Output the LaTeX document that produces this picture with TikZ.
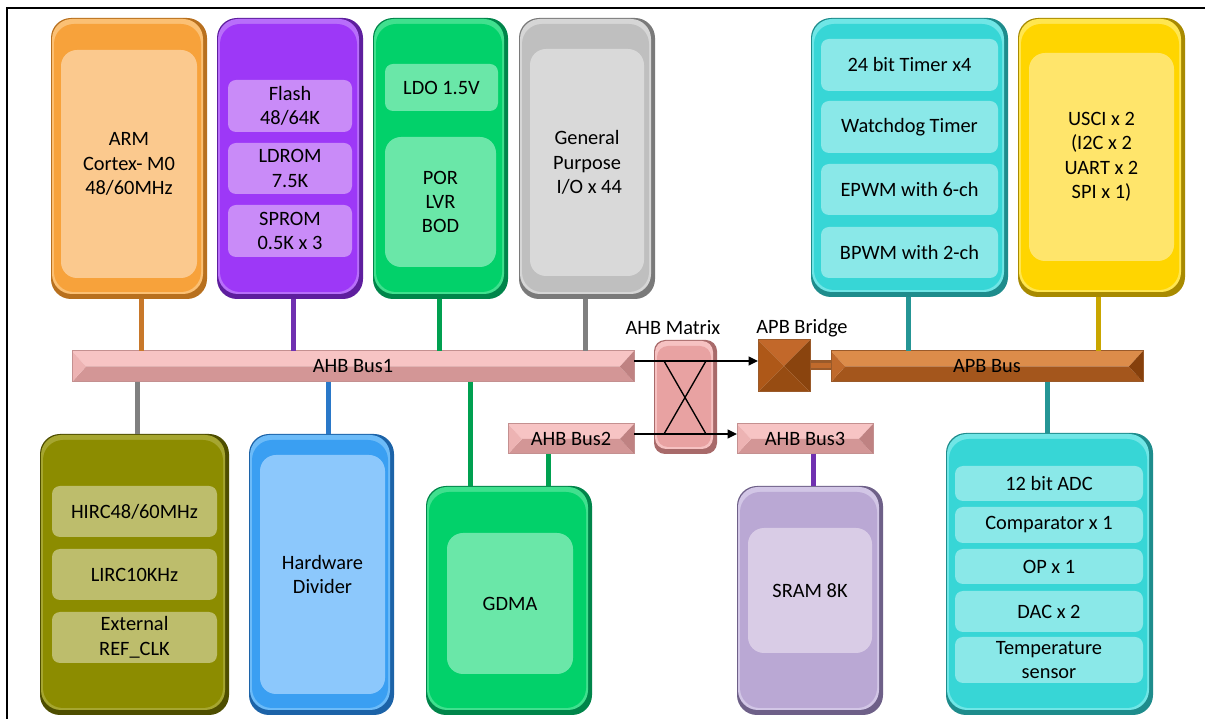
\documentclass[tikz,border=0pt]{standalone}
\usepackage{fontspec}
\setmainfont{Carlito}
\usetikzlibrary{fit,arrows.meta}
% box colours: D dark rim, L light rim, M main, P panel
\definecolor{armD}{HTML}{B8701E}\definecolor{armL}{HTML}{FBC074}\definecolor{armM}{HTML}{F7A23B}\definecolor{armP}{HTML}{FBC98E}
\definecolor{purD}{HTML}{5E1E9E}\definecolor{purL}{HTML}{B86EFA}\definecolor{purM}{HTML}{9D38F7}\definecolor{purP}{HTML}{C98BF8}
\definecolor{grnD}{HTML}{00854A}\definecolor{grnL}{HTML}{40E08E}\definecolor{grnM}{HTML}{02D16A}\definecolor{grnP}{HTML}{6AE7A8}
\definecolor{gryD}{HTML}{7A7A7A}\definecolor{gryL}{HTML}{D6D6D6}\definecolor{gryM}{HTML}{BFBFBF}\definecolor{gryP}{HTML}{D9D9D9}
\definecolor{cyaD}{HTML}{1E8C8C}\definecolor{cyaL}{HTML}{70E6E6}\definecolor{cyaM}{HTML}{37D6D6}\definecolor{cyaP}{HTML}{8AE8E8}
\definecolor{yelD}{HTML}{A88A00}\definecolor{yelL}{HTML}{FFE650}\definecolor{yelM}{HTML}{FFD500}\definecolor{yelP}{HTML}{FFE56B}
\definecolor{oliD}{HTML}{4E4E00}\definecolor{oliL}{HTML}{A6A630}\definecolor{oliM}{HTML}{8C8C00}\definecolor{oliP}{HTML}{BDBD6C}
\definecolor{bluD}{HTML}{1C63A8}\definecolor{bluL}{HTML}{6CBBF8}\definecolor{bluM}{HTML}{3A9FF2}\definecolor{bluP}{HTML}{8CC8FC}
\definecolor{lavD}{HTML}{6E6088}\definecolor{lavL}{HTML}{D2C6E6}\definecolor{lavM}{HTML}{BAA8D4}\definecolor{lavP}{HTML}{D9CCE6}
\definecolor{pnkD}{HTML}{A86A6A}\definecolor{pnkL}{HTML}{F6C2C2}\definecolor{pnkM}{HTML}{E8A2A2}
% bus colours: T top, B bottom, F left end, R right end, E edge
\definecolor{ahbT}{HTML}{F7C4C4}\definecolor{ahbB}{HTML}{D39696}\definecolor{ahbF}{HTML}{EDB3B3}\definecolor{ahbR}{HTML}{BF8282}\definecolor{ahbE}{HTML}{C49090}
\definecolor{apbT}{HTML}{DC8C4A}\definecolor{apbB}{HTML}{A4561C}\definecolor{apbF}{HTML}{C06A2C}\definecolor{apbR}{HTML}{86400C}\definecolor{apbE}{HTML}{9A5A2A}
% bridge facets
\definecolor{brT}{HTML}{C2682A}\definecolor{brL}{HTML}{AE5818}\definecolor{brR}{HTML}{8A440E}\definecolor{brB}{HTML}{974C12}
% stub colours
\definecolor{sArm}{HTML}{C8782A}\definecolor{sPur}{HTML}{7030B0}\definecolor{sGrn}{HTML}{00A050}
\definecolor{sGry}{HTML}{808080}\definecolor{sCya}{HTML}{259595}\definecolor{sYel}{HTML}{C9A600}\definecolor{sBlu}{HTML}{2A78C8}

\newcommand\bevelbox[7][0.4cm]{% [radius] name x0 y0 x1 y1 colourprefix
  \node[fit={(#3,#4)(#5,#6)}, inner sep=0pt, outer sep=0pt, rounded corners=#1, fill=#7D] (#2) {};
  \fill[#7L, rounded corners=#1] (#3+1,#4+1) rectangle (#5-4,#6-5);
  \fill[#7M, rounded corners=#1] (#3+3,#4+6) rectangle (#5-6,#6-7);
}
\newcommand\busbar[7]{% name x0 y0 x1 y1 colourprefix text
  \fill[#6T] (#2,#3) -- (#4,#3) -- (#4-14,{(#3+#5)/2}) -- (#2+14,{(#3+#5)/2}) -- cycle;
  \fill[#6B] (#2,#5) -- (#4,#5) -- (#4-14,{(#3+#5)/2}) -- (#2+14,{(#3+#5)/2}) -- cycle;
  \fill[#6F] (#2,#3) -- (#2+14,{(#3+#5)/2}) -- (#2,#5) -- cycle;
  \fill[#6R] (#4,#3) -- (#4-14,{(#3+#5)/2}) -- (#4,#5) -- cycle;
  \node[fit={(#2,#3)(#4,#5)}, inner sep=0pt, outer sep=0pt, draw=#6E, line width=0.02cm] (#1) {};
  \node[txt] (#1t) at (#1.center) {#7};
}
% panel: name x0 y0 x1 y1 colour radius text
\newcommand\panel[8]{%
  \node[fit={(#2,#3)(#4,#5)}, inner sep=0pt, outer sep=0pt, rounded corners=#7, fill=#6] (#1) {};
  \node[txt] (#1t) at (#1.center) {#8};
}

\tikzset{
  txt/.style={font=\fontsize{11.6pt}{13.9pt}\selectfont, text=black, align=center, inner sep=0pt},
  stub/.style={line width=0.1cm},
  link/.style={line width=0.027cm, -{Triangle[length=0.19cm,width=0.18cm]}},
}

\begin{document}
\begin{tikzpicture}[x=0.02cm, y=-0.02cm]
\useasboundingbox (0,0) rectangle (1205,719);
\fill[white] (0,0) rectangle (1205,719);
\draw[line width=0.04cm] (7,8) rectangle (1230,740);

% ---------- top row ----------
\bevelbox{arm}{51}{18}{207}{299}{arm}
\panel{armp}{61}{50}{197}{278}{armP}{0.32cm}{ARM\\Cortex- M0\\48/60MHz}

\bevelbox{mem}{217}{18}{363}{299}{pur}
\panel{flash}{228}{80}{352}{132}{purP}{0.16cm}{Flash\\48/64K}
\panel{ldrom}{228}{143}{352}{194}{purP}{0.16cm}{LDROM\\7.5K}
\panel{sprom}{228}{205}{352}{257}{purP}{0.16cm}{SPROM\\0.5K x 3}

\bevelbox{pwr}{373}{18}{508}{299}{grn}
\panel{ldo}{385}{64}{498}{111}{grnP}{0.16cm}{LDO 1.5V}
\panel{por}{385}{137}{496}{267}{grnP}{0.32cm}{POR\\LVR\\BOD}

\bevelbox{gpio}{519}{18}{655}{299}{gry}
\panel{gpiop}{530}{49}{644}{276}{gryP}{0.32cm}{General\\Purpose\\\ I/O x 44}

\bevelbox{tmr}{811}{18}{1008}{297}{cya}
\panel{t1}{821}{39}{998}{91}{cyaP}{0.16cm}{24 bit Timer x4}
\panel{t2}{821}{101}{998}{153}{cyaP}{0.16cm}{Watchdog Timer}
\panel{t3}{821}{164}{998}{215}{cyaP}{0.16cm}{EPWM with 6-ch}
\panel{t4}{821}{227}{998}{278}{cyaP}{0.16cm}{BPWM with 2-ch}

\bevelbox{usci}{1018}{18}{1185}{297}{yel}
\panel{uscip}{1029}{53}{1174}{261}{yelP}{0.32cm}{USCI x 2\\(I2C x 2\\UART x 2\\SPI x 1)}

% ---------- bottom row ----------
\bevelbox{clk}{40}{434}{229}{715}{oli}
\panel{hirc}{52}{486}{217}{537}{oliP}{0.16cm}{HIRC48/60MHz}
\panel{lirc}{52}{549}{217}{600}{oliP}{0.16cm}{LIRC10KHz}
\panel{ref}{52}{612}{217}{663}{oliP}{0.16cm}{External\\REF\_CLK}

\bevelbox{div}{249}{434}{394}{715}{blu}
\panel{divp}{260}{455}{385}{694}{bluP}{0.32cm}{Hardware\\Divider}

\bevelbox{gdma}{426}{486}{592}{715}{grn}
\panel{gdmap}{447}{533}{573}{674}{grnP}{0.32cm}{GDMA}

\bevelbox{sram}{737}{486}{883}{715}{lav}
\panel{sramp}{748}{528}{872}{653}{lavP}{0.32cm}{SRAM 8K}

\bevelbox{ana}{946}{433}{1153}{715}{cya}
\panel{adc}{955}{466}{1143}{501}{cyaP}{0.16cm}{12 bit ADC}
\panel{cmp}{955}{507}{1143}{543}{cyaP}{0.16cm}{Comparator x 1}
\panel{op}{955}{549}{1143}{584}{cyaP}{0.16cm}{OP x 1}
\panel{dac}{955}{591}{1143}{632}{cyaP}{0.16cm}{DAC x 2}
\panel{temp}{955}{637}{1143}{683}{cyaP}{0.16cm}{Temperature\\sensor}

% ---------- buses ----------
\busbar{ahb1}{72}{351}{634}{382}{ahb}{AHB Bus1}
\busbar{ahb2}{508}{424}{634}{454}{ahb}{AHB Bus2}
\busbar{ahb3}{737}{424}{873}{454}{ahb}{AHB Bus3}
\busbar{apb}{831}{351}{1143}{382}{apb}{APB Bus}

% AHB matrix
\bevelbox[0.22cm]{mtx}{654}{340}{717}{454}{pnk}
\node[txt] (mtxl) at (673,328) {AHB Matrix};
\coordinate (r1) at (0,361);
\coordinate (r2) at (0,434);
\draw[line width=0.027cm] (664,361) -- (706,434) (706,361) -- (664,434);

% APB bridge
\node[fit={(758,340)(810,392)}, inner sep=0pt, outer sep=0pt] (bridge) {};
\fill[brT] (bridge.north west) -- (bridge.north east) -- (bridge.center) -- cycle;
\fill[brL] (bridge.north west) -- (bridge.south west) -- (bridge.center) -- cycle;
\fill[brR] (bridge.north east) -- (bridge.south east) -- (bridge.center) -- cycle;
\fill[brB] (bridge.south west) -- (bridge.south east) -- (bridge.center) -- cycle;
\draw[apbE, line width=0.02cm] (bridge.north west) rectangle (bridge.south east);
\node[txt] (bridgel) at (802,328) {APB Bridge};
\coordinate (r3) at (0,365.5);
\draw[apbE, line width=0.2cm] (bridge.east |- r3) -- (apb.west |- r3);
\draw[apbF, line width=0.1cm] ([xshift=0.01cm]bridge.east |- r3) -- ([xshift=-0.01cm]apb.west |- r3);

% arrows through the matrix
\draw[link] (ahb1.east |- r1) -- (bridge.west |- r1);
\draw[link] (ahb2.east |- r2) -- (ahb3.west |- r2);

% ---------- stubs ----------
\draw[stub, sArm] (141,0 |- arm.south) -- (141,0 |- ahb1.north);
\draw[stub, sPur] (293,0 |- mem.south) -- (293,0 |- ahb1.north);
\draw[stub, sGrn] (439,0 |- pwr.south) -- (439,0 |- ahb1.north);
\draw[stub, sGry] (585,0 |- gpio.south) -- (585,0 |- ahb1.north);
\draw[stub, sCya] (908,0 |- tmr.south) -- (908,0 |- apb.north);
\draw[stub, sYel] (1098,0 |- usci.south) -- (1098,0 |- apb.north);
\draw[stub, sGry] (137,0 |- ahb1.south) -- (137,0 |- clk.north);
\draw[stub, sBlu] (328,0 |- ahb1.south) -- (328,0 |- div.north);
\draw[stub, sGrn] (470,0 |- ahb1.south) -- (470,0 |- gdma.north);
\draw[stub, sGrn] (548,0 |- ahb2.south) -- (548,0 |- gdma.north);
\draw[stub, sPur] (813,0 |- ahb3.south) -- (813,0 |- sram.north);
\draw[stub, sCya] (1047,0 |- apb.south) -- (1047,0 |- ana.north);
\end{tikzpicture}
\end{document}
